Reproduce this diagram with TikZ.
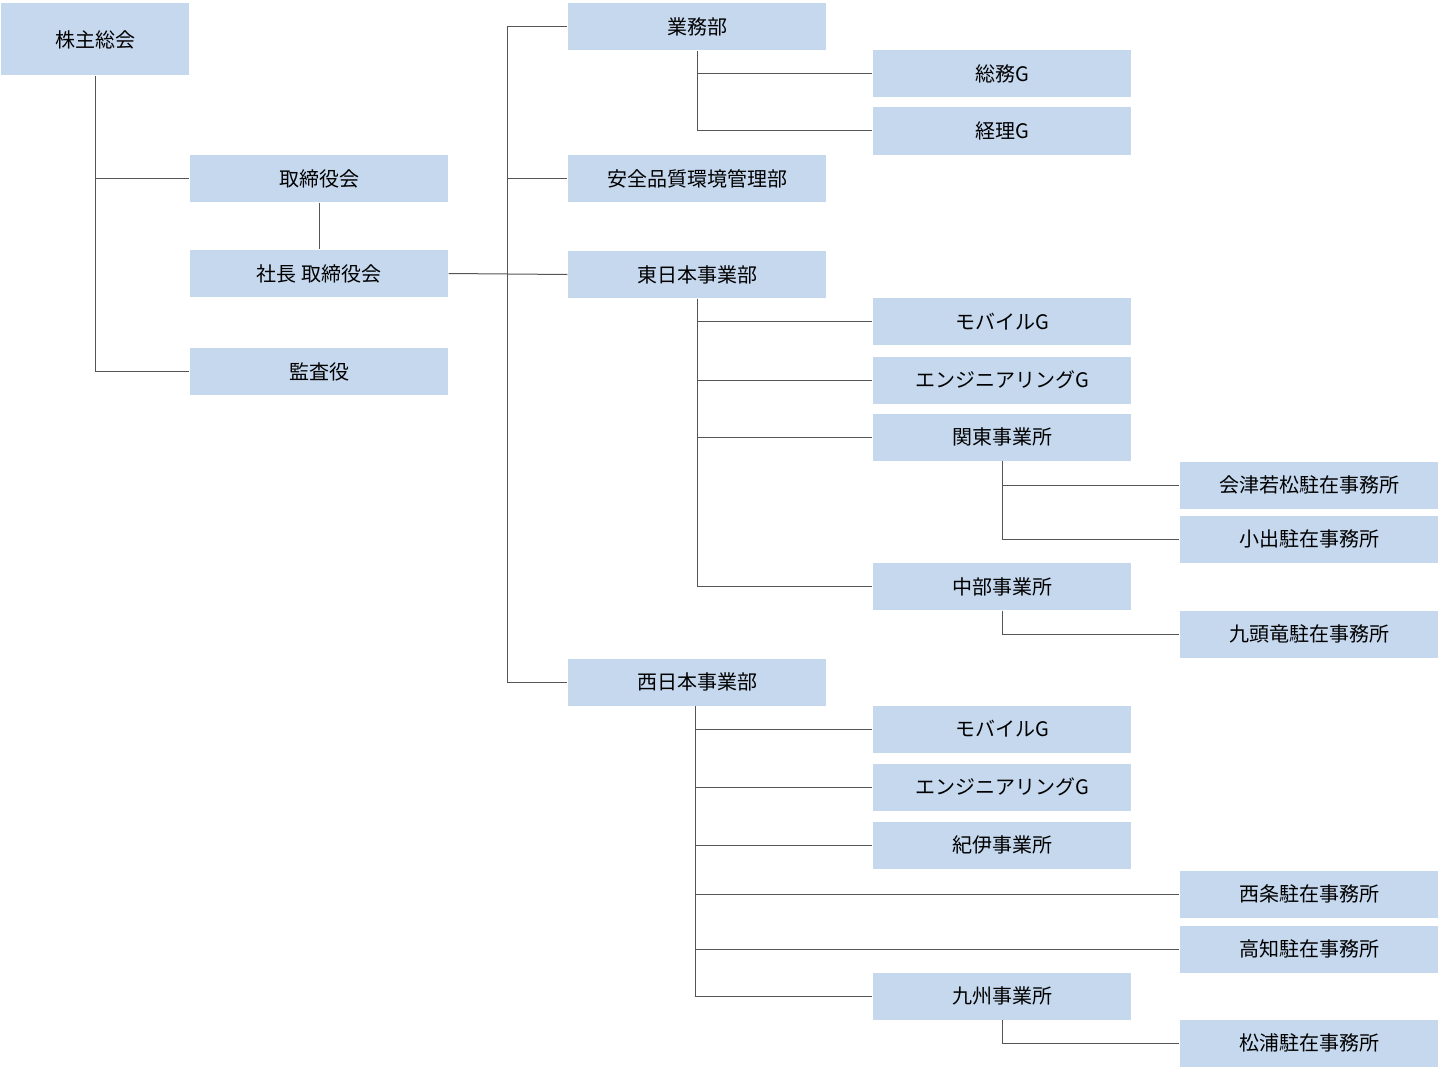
\documentclass[tikz,border=0pt]{standalone}
\usepackage{fontspec}
\setmainfont{Noto Sans CJK JP}
\tikzset{every picture/.style={line width=0.6pt}}
\tikzset{
  unit/.style={fill={rgb,255:red,197;green,216;blue,238},draw=none,minimum width=129pt,minimum height=23.5pt,inner sep=0pt,font=\fontsize{10}{12}\selectfont},
  link/.style={draw={rgb,255:red,85;green,85;blue,85},line width=0.5pt}
}
\begin{document}
\begin{tikzpicture}[x=0.5pt,y=0.5pt,yscale=-1]
\useasboundingbox (0,0) rectangle (1440,1070);

% left column
\node [unit,minimum width=94pt,minimum height=36pt] (meeting) at (95,39.5) {株主総会};
\node [unit] (board) at (319,178.5) {取締役会};
\node [unit] (pres) at (319,273.5) {社長 取締役会};
\node [unit] (audit) at (319,371.5) {監査役};

% departments
\node [unit] (ops) at (697,27) {業務部};
\node [unit] (safety) at (697,178.5) {安全品質環境管理部};
\node [unit] (east) at (697,274.5) {東日本事業部};
\node [unit] (west) at (697,682) {西日本事業部};

% groups and offices
\node [unit] (soumu) at (1002,74) {総務G};
\node [unit] (keiri) at (1002,131) {経理G};
\node [unit] (emob) at (1002,321.5) {モバイルG};
\node [unit] (eeng) at (1002,380) {エンジニアリングG};
\node [unit] (kanto) at (1002,437) {関東事業所};
\node [unit] (chubu) at (1002,586.5) {中部事業所};
\node [unit] (wmob) at (1002,729) {モバイルG};
\node [unit] (weng) at (1002,787) {エンジニアリングG};
\node [unit] (kii) at (1002,845) {紀伊事業所};
\node [unit] (kyushu) at (1002,996) {九州事業所};

% branch offices
\node [unit] (aizu) at (1309,485) {会津若松駐在事務所};
\node [unit] (koide) at (1309,539) {小出駐在事務所};
\node [unit] (kuzu) at (1309,634) {九頭竜駐在事務所};
\node [unit] (saijo) at (1309,894) {西条駐在事務所};
\node [unit] (kochi) at (1309,949) {高知駐在事務所};
\node [unit] (matsu) at (1309,1043) {松浦駐在事務所};

% connectors
\draw [link] (meeting.south) |- (audit.west);
\draw [link] (meeting.south) |- (board.west);
\draw [link] (board.south) -- (pres.north);
\draw [link] (pres.east) -- (east.west);
\draw [link] (ops.west) -- ++(-60,0) |- (west.west);
\draw [link] (ops.west) ++(-60,0) |- (safety.west);
\draw [link] (ops.south) |- (soumu.west);
\draw [link] (ops.south) |- (keiri.west);
\draw [link] (east.south) |- (chubu.west);
\foreach \n in {emob,eeng,kanto} \draw [link] (east.south) |- (\n.west);
\draw [link] (kanto.south) |- (aizu.west);
\draw [link] (kanto.south) |- (koide.west);
\draw [link] (chubu.south) |- (kuzu.west);
\draw [link] ([xshift=-1]west.south) |- (kyushu.west);
\foreach \n in {wmob,weng,kii,saijo,kochi} \draw [link] ([xshift=-1]west.south) |- (\n.west);
\draw [link] (kyushu.south) |- (matsu.west);
\end{tikzpicture}
\end{document}
